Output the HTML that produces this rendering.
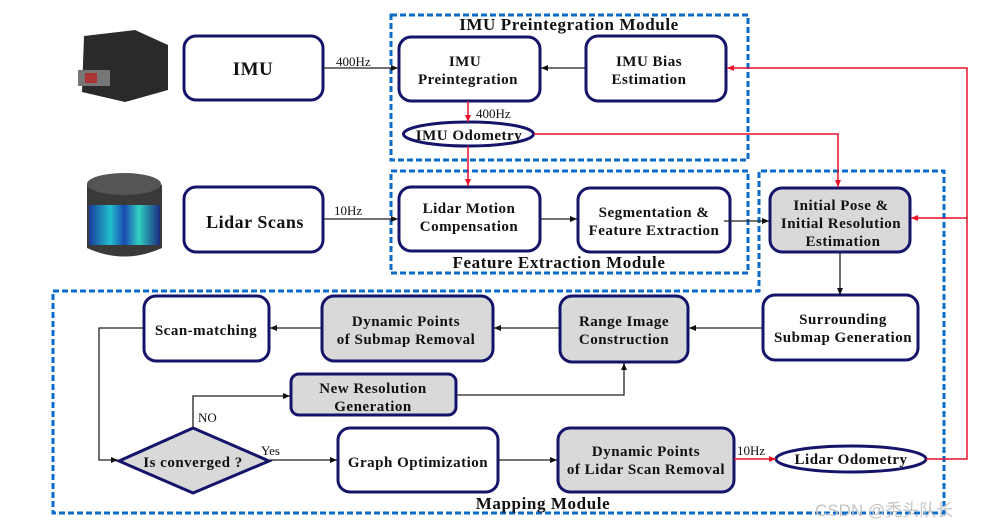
<!DOCTYPE html>
<html><head><meta charset="utf-8"><style>
html,body{margin:0;padding:0;background:#fff;width:983px;height:528px;overflow:hidden}
svg text{font-family:"Liberation Serif",serif;font-weight:bold;fill:#111}
</style></head><body>
<svg width="983" height="528" viewBox="0 0 983 528" xmlns="http://www.w3.org/2000/svg">
<defs>
<marker id="ab" markerWidth="8" markerHeight="8" refX="7" refY="4" orient="auto" markerUnits="userSpaceOnUse"><path d="M0,1 L7,4 L0,7 z" fill="#111"/></marker>
<marker id="ar" markerWidth="8" markerHeight="8" refX="7" refY="4" orient="auto" markerUnits="userSpaceOnUse"><path d="M0,1 L7,4 L0,7 z" fill="#e8102a"/></marker>
<linearGradient id="lg" x1="0" x2="1"><stop offset="0" stop-color="#1a3a9a"/><stop offset="0.3" stop-color="#22c0d0"/><stop offset="0.5" stop-color="#1a4ab0"/><stop offset="0.7" stop-color="#30d0c0"/><stop offset="1" stop-color="#1a2a80"/></linearGradient>
</defs>
<g fill="none" stroke="#0a6cc8" stroke-width="3" stroke-dasharray="6,3">
<rect x="391" y="15" width="357" height="145"/>
<rect x="391" y="171" width="357" height="102"/>
<path d="M53,291 H759 V171 H944 V513 H53 Z"/>
</g>
<g font-size="17" letter-spacing="0.6" text-anchor="middle">
<text x="569" y="30">IMU Preintegration Module</text>
<text x="559" y="268">Feature Extraction Module</text>
<text x="543" y="509">Mapping Module</text>
</g>
<path d="M84,36 L135,30 L168,45 L168,90 L125,102 L82,92 Z" fill="#2a2a2a"/>
<rect x="78" y="70" width="32" height="16" fill="#777"/><rect x="85" y="73" width="12" height="10" fill="#a33"/>
<path d="M87,185 Q124,165 162,185 V248 Q124,265 87,248 Z" fill="#3a3a3a"/>
<rect x="89" y="205" width="71" height="40" fill="url(#lg)"/>
<ellipse cx="124" cy="184" rx="37" ry="11" fill="#555"/>
<g stroke="#14146a" stroke-width="3">
<rect x="184" y="36" width="139" height="64" rx="12" fill="#fff"/>
<rect x="399" y="37" width="141" height="64" rx="12" fill="#fff"/>
<rect x="586" y="36" width="140" height="65" rx="12" fill="#fff"/>
<ellipse cx="468.5" cy="134" rx="65" ry="12" fill="#fff"/>
<rect x="184" y="187" width="139" height="65" rx="12" fill="#fff"/>
<rect x="399" y="187" width="141" height="64" rx="12" fill="#fff"/>
<rect x="578" y="188" width="152" height="64" rx="12" fill="#fff"/>
<rect x="770" y="188" width="140" height="64" rx="12" fill="#d9d9d9"/>
<rect x="763" y="295" width="155" height="65" rx="12" fill="#fff"/>
<rect x="560" y="296" width="128" height="66" rx="12" fill="#d9d9d9"/>
<rect x="322" y="296" width="171" height="65" rx="12" fill="#d9d9d9"/>
<rect x="144" y="296" width="125" height="65" rx="12" fill="#fff"/>
<rect x="291" y="374" width="165" height="41" rx="8" fill="#d9d9d9"/>
<path d="M119,461 L193,428 L269,461 L193,493 Z" fill="#d9d9d9"/>
<rect x="338" y="428" width="160" height="64" rx="12" fill="#fff"/>
<rect x="558" y="428" width="176" height="64" rx="12" fill="#d9d9d9"/>
<ellipse cx="851" cy="459" rx="75" ry="13" fill="#fff"/>
</g>
<g text-anchor="middle" font-size="15" letter-spacing="0.5">
<text x="253" y="75" font-size="19">IMU</text>
<text x="465" y="66">IMU</text><text x="468" y="84">Preintegration</text>
<text x="649" y="66">IMU Bias</text><text x="649" y="84">Estimation</text>
<text x="469" y="140">IMU Odometry</text>
<text x="255" y="228" font-size="18">Lidar Scans</text>
<text x="469" y="213">Lidar Motion</text><text x="469" y="231">Compensation</text>
<text x="654" y="217">Segmentation &amp;</text><text x="654" y="235">Feature Extraction</text>
<text x="841" y="210">Initial Pose &amp;</text><text x="841" y="228">Initial Resolution</text><text x="843" y="246">Estimation</text>
<text x="843" y="324">Surrounding</text><text x="843" y="342">Submap Generation</text>
<text x="624" y="326">Range Image</text><text x="624" y="344">Construction</text>
<text x="406" y="326">Dynamic Points</text><text x="406" y="344">of Submap Removal</text>
<text x="206" y="335">Scan-matching</text>
<text x="373" y="393">New Resolution</text><text x="373" y="411">Generation</text>
<text x="193" y="467">Is converged ?</text>
<text x="418" y="467">Graph Optimization</text>
<text x="646" y="456">Dynamic Points</text><text x="646" y="474">of Lidar Scan Removal</text>
<text x="851" y="464">Lidar Odometry</text>
</g>
<g font-size="13">
<text x="336" y="66" style="font-weight:normal">400Hz</text>
<text x="476" y="118" style="font-weight:normal">400Hz</text>
<text x="334" y="215" style="font-weight:normal">10Hz</text>
<text x="198" y="422" style="font-weight:normal">NO</text>
<text x="261" y="455" style="font-weight:normal">Yes</text>
<text x="737" y="455" style="font-weight:normal">10Hz</text>
</g>
<g stroke="#222" stroke-width="1.3" fill="none" marker-end="url(#ab)">
<path d="M323,68 H398"/>
<path d="M585,68 H541"/>
<path d="M323,219 H398"/>
<path d="M540,219 H577"/>
<path d="M724,221 H769"/>
<path d="M840,252 V295"/>
<path d="M762,328 H689"/>
<path d="M559,328 H494"/>
<path d="M321,328 H270"/>
<path d="M143,328 H99 V460 H118"/>
<path d="M193,428 V396 H290"/>
<path d="M456,395 H624 V363"/>
<path d="M270,460 H337"/>
<path d="M498,460 H557"/>
</g>
<g stroke="#e8102a" stroke-width="1.5" fill="none" marker-end="url(#ar)">
<path d="M468,101 V122"/>
<path d="M468,146 V186"/>
<path d="M534,134 H838 V187"/>
<path d="M734,459 H776"/>
<path d="M926,459 H967 V68 H727"/>
<path d="M967,218 H911"/>
</g>
<text x="815" y="516" font-size="17" style="font-weight:normal;fill:#c4c4c4;font-family:'Liberation Sans','Noto Sans CJK SC',sans-serif">CSDN @秃头队长</text>
</svg>
</body></html>
